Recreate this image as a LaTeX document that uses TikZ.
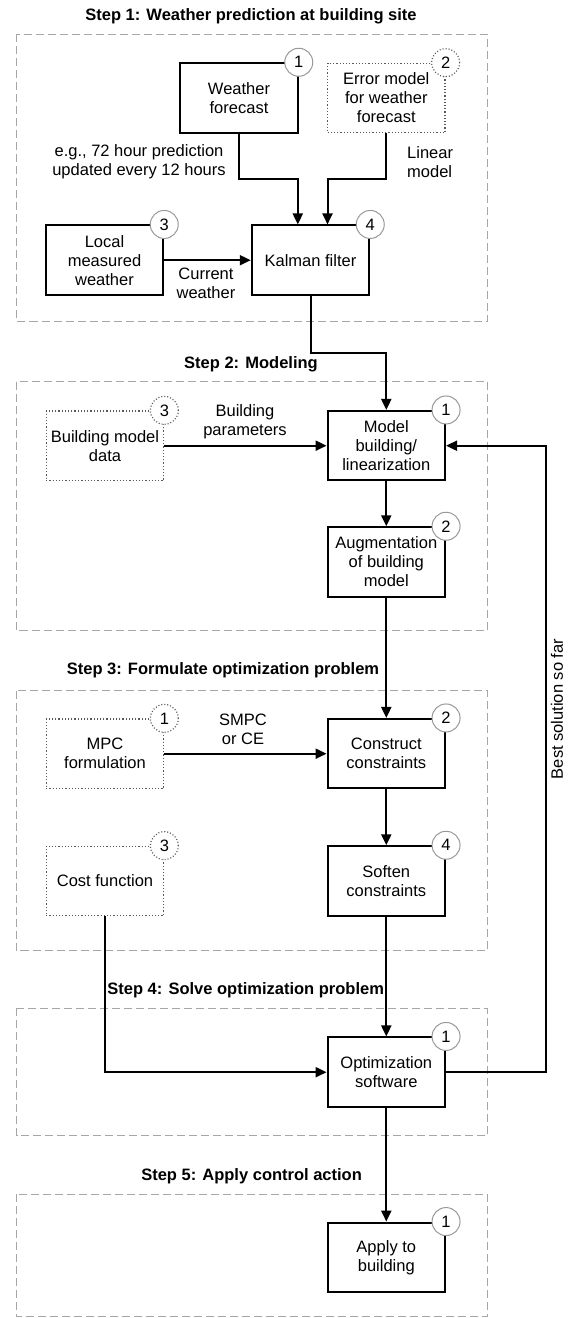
\documentclass[tikz,border=0pt]{standalone}
\usepackage{fontspec}
\setmainfont{Liberation Sans}
\usetikzlibrary{arrows.meta,calc}
\begin{document}
\begin{tikzpicture}[x=1pt,y=-1pt,
  every node/.style={font=\fontsize{16.5}{19}\selectfont},
  sbox/.style={draw, line width=2pt, minimum width=117.5pt, minimum height=69.5pt, align=center, inner sep=0pt, fill=white},
  dbox/.style={draw=black!65, dotted, line width=1.2pt, minimum width=117.5pt, minimum height=69.5pt, align=center, inner sep=0pt, fill=white},
  num/.style={circle, draw=black!40, line width=1pt, fill=white, minimum size=28pt, inner sep=0pt},
  dnum/.style={num, draw=black!65, dotted, line width=1.2pt},
  area/.style={draw=black!35, dash pattern=on 8pt off 4pt, line width=1pt},
  arr/.style={line width=2pt, -{Triangle[length=11pt,width=10pt]}},
  lin/.style={line width=2pt},
  steptitle/.style={font=\bfseries\fontsize{16.5}{19}\selectfont},
  lab/.style={align=center, inner sep=0pt}]
\useasboundingbox (0,0) rectangle (568,1318);

% step areas
\draw[area] (16.5,34) rectangle (487,321);
\draw[area] (16.5,381.7) rectangle (487,630.7);
\draw[area] (16.5,690.7) rectangle (487,950.7);
\draw[area] (16.5,1008.3) rectangle (487,1135.7);
\draw[area] (16.5,1194) rectangle (487,1316.5);

% titles
\node[steptitle] (t1) at (251,16.7) {Step 1: Weather prediction at building site};
\node[steptitle] (t2) at (251,364.3) {Step 2: Modeling};
\node[steptitle] (t3) at (223,670.7) {Step 3: Formulate optimization problem};
\node[steptitle] (t4) at (245.7,990) {Step 4: Solve optimization problem};
\node[steptitle] (t5) at (251.6,1176) {Step 5: Apply control action};

% step 1 nodes
\node[sbox] (wf) at (239,98) {Weather\\forecast};
\node[dbox] (em) at (386.3,98) {Error model\\for weather\\forecast};
\node[sbox] (loc) at (104.5,260.2) {Local\\measured\\weather};
\node[sbox] (kal) at (310.5,260.2) {Kalman filter};
% step 2
\node[dbox] (bmd) at (105,445.7) {Building model\\data};
\node[sbox] (mod) at (386.3,445.7) {Model\\building/\\linearization};
\node[sbox] (aug) at (386.3,562) {Augmentation\\of building\\model};
% step 3
\node[dbox] (mpc) at (105,753.7) {MPC\\formulation};
\node[sbox] (con) at (386.3,753.7) {Construct\\constraints};
\node[dbox] (cost) at (105,881) {Cost function};
\node[sbox] (soft) at (386.3,881) {Soften\\constraints};
% step 4
\node[sbox] (opt) at (386.3,1072.2) {Optimization\\software};
% step 5
\node[sbox] (app) at (386.3,1257.3) {Apply to\\building};

% number circles
\node[num]  (n11) at (wf.north east) {1};
\node[dnum] (n12) at (em.north east) {2};
\node[num]  (n13) at (loc.north east) {3};
\node[num]  (n14) at (kal.north east) {4};
\node[num]  (n21) at (mod.north east) {1};
\node[num]  (n22) at (aug.north east) {2};
\node[dnum] (n23) at (bmd.north east) {3};
\node[dnum] (n31) at (mpc.north east) {1};
\node[num]  (n32) at (con.north east) {2};
\node[dnum] (n33) at (cost.north east) {3};
\node[num]  (n34) at (soft.north east) {4};
\node[num]  (n41) at (opt.north east) {1};
\node[num]  (n51) at (app.north east) {1};

% helper coordinates
\coordinate (bend1) at (0,179.3);
\coordinate (kin1) at (297.8,0);
\coordinate (kin2) at (327.5,0);
\coordinate (bend2) at (0,352.7);
\coordinate (fb) at (545.6,0);

% connectors
\draw[arr] (wf.south) -- (wf.south |- bend1) -| (kin1 |- kal.north);
\draw[arr] (em.south) -- (em.south |- bend1) -| (kin2 |- kal.north);
\draw[arr] (loc.east) -- (kal.west);
\draw[arr] (kal.south) -- (kal.south |- bend2) -| (mod.north);
\draw[arr] (bmd.east) -- (mod.west);
\draw[arr] (mod.south) -- (aug.north);
\draw[arr] (aug.south) -- (con.north);
\draw[arr] (mpc.east) -- (con.west);
\draw[arr] (con.south) -- (soft.north);
\draw[arr] (soft.south) -- (opt.north);
\draw[arr] (cost.south) |- (opt.west);
\draw[arr] (opt.east) -- (opt.east -| fb) -- (fb |- mod.east) -- (mod.east);
\draw[arr] (opt.south) -- (app.north);

% labels
\node[lab] (l1) at (139,162.2) {e.g., 72 hour prediction\\updated every 12 hours};
\node[lab, align=left, anchor=west] (l2) at (407,162.2) {Linear\\model};
\node[lab] (l3) at (206,283.7) {Current\\weather};
\node[lab] (l4) at (245,421.3) {Building\\parameters};
\node[lab] (l5) at (243,729) {SMPC\\or CE};
\node[lab, rotate=90] (l6) at (557,709) {Best solution so far};
\end{tikzpicture}
\end{document}
